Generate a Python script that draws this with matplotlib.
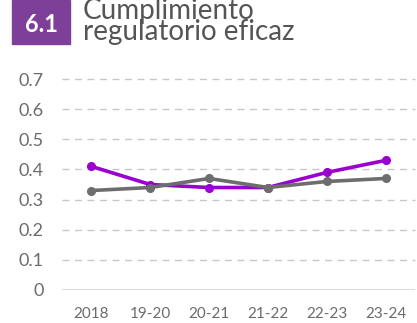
import matplotlib.pyplot as plt
from matplotlib.patches import Rectangle

periodos = ['2018', '19-20', '20-21', '21-22', '22-23', '23-24']
morado = [0.41, 0.35, 0.34, 0.34, 0.39, 0.43]
gris = [0.33, 0.34, 0.37, 0.34, 0.36, 0.37]
yticks = [0, 0.1, 0.2, 0.3, 0.4, 0.5, 0.6, 0.7]
ytick_labels = ['0', '0.1', '0.2', '0.3', '0.4', '0.5', '0.6', '0.7']

plt.rcParams['font.family'] = ['Lato', 'DejaVu Sans']

fig = plt.figure(figsize=(4.17, 3.23), dpi=100)
ax = fig.add_axes([62 / 417, 33 / 323, 353 / 417, 211 / 323])

x = range(len(periodos))
ax.plot(x, morado, color='#9a00d0', lw=2.6, marker='o', ms=5.5, zorder=2, clip_on=False)
ax.plot(x, gris, color='#6d6d6d', lw=2.6, marker='o', ms=5.5, zorder=3, clip_on=False)

ax.set_xlim(-0.5, 5.5)
ax.set_ylim(0, 0.7)
ax.set_yticks(yticks)
ax.set_yticklabels(ytick_labels)
ax.set_xticks(list(x))
ax.set_xticklabels(periodos)

for y in yticks[1:]:
    ax.axhline(y, color='#c8c8c8', lw=1, ls=(0, (5, 4)), zorder=1, clip_on=False)
ax.axhline(0, color='#dcdcdc', lw=1.5, zorder=1)

for s in ax.spines.values():
    s.set_visible(False)
ax.tick_params(axis='y', length=0, pad=13, labelsize=13, labelcolor='#6b6b6b')
ax.tick_params(axis='x', length=0, pad=12, labelsize=11, labelcolor='#6b6b6b')

# encabezado
fig.patches.append(Rectangle((12 / 417, 1 - 44 / 323), 58 / 417, 44 / 323,
                             transform=fig.transFigure, color='#7d3f98', zorder=0))
fig.text(41 / 417, 1 - 24 / 323, '6.1', color='white', fontsize=17, fontweight='bold',
         ha='center', va='center')
fig.text(83 / 417, 1 - 40 / 323, 'Cumplimiento\nregulatorio eficaz', color='#555555',
         fontsize=20, ha='left', va='baseline', linespacing=0.76)

fig.savefig('out.png', dpi=100)
